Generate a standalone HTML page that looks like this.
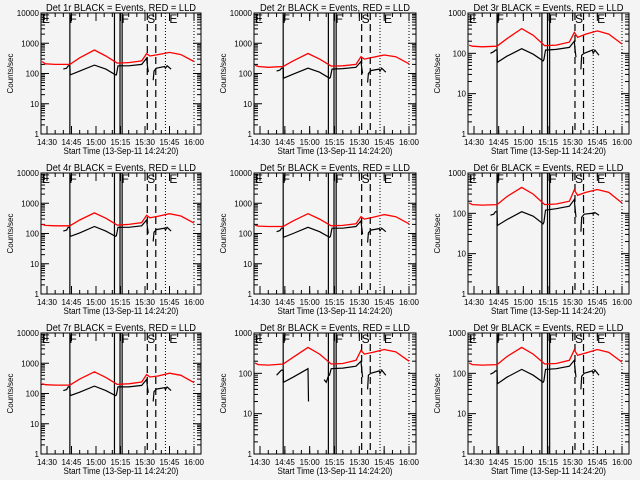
<!DOCTYPE html>
<html><head><meta charset="utf-8">
<style>
html,body{margin:0;padding:0;background:#f4f4f4;}
svg{display:block;font-family:"Liberation Sans",sans-serif;}
</style></head>
<body>
<svg id="chart" width="640" height="480" viewBox="0 0 640 480"></svg>
<script>
// ---- data ----
const detNames = ["1r","2r","3r","4r","5r","6r","7r","8r","9r"];
const yMaxDecade = [4,4,3,4,4,3,4,3,3];
const xTickLabels = ["14:30","14:45","15:00","15:15","15:30","15:45","16:00"];
const xTickMinutes = [0,15,30,45,60,75,90];
const solidLines = [14,41.3,44.7,46];
const dashedLines = [61.4,66.6];
const dottedLines = [72.5,90];
const markerLetters = ["E","F","F","S","E"];
const markerMinutes = [-2.5,14.3,46.2,62,75.5];
const redT = [-3,-1,5,14,20,29,36,43,50,58,61,63,68,75,82,90];
const red1 = [250,210,200,200,330,600,380,220,230,260,450,380,420,500,420,250];
const red2 = [190,170,160,170,260,460,300,175,180,200,360,300,340,410,360,210];
const red3 = [160,150,145,150,230,410,280,155,160,190,330,250,300,360,300,170];
const red4 = [200,185,180,180,280,480,320,190,200,230,400,330,370,450,380,220];
const red5 = [190,175,170,170,260,450,300,180,185,210,360,300,340,420,360,210];
const red6 = [180,165,160,165,260,440,300,165,170,200,380,280,330,390,330,180];
const red7 = [210,195,190,190,300,520,340,200,210,240,420,350,380,470,400,230];
const red8 = [180,165,160,170,250,440,300,170,175,210,370,300,330,390,340,200];
const red9 = [180,165,160,165,260,440,300,170,175,210,380,280,320,390,330,190];
const blackT = [10,12,13,14,14.2,20,29,36,42,42.5,43.5,50,58,61,61.5,62,63,65,65.5,67,72,72.5,73.5,76];
const black1 = [140,150,180,180,90,120,190,140,90,90,180,180,200,320,180,110,null,60,120,150,170,150,180,140];
const black2 = [120,130,150,150,70,95,150,110,70,75,140,145,160,250,150,100,null,50,100,125,140,120,150,110];
const black3 = [100,110,120,120,60,85,130,95,65,70,120,125,140,200,120,80,null,40,90,100,120,100,120,90];
const black4 = [120,130,160,160,80,105,170,120,80,85,160,160,180,280,160,100,null,55,110,135,150,130,160,120];
const black5 = [115,125,150,150,75,100,160,115,75,80,150,150,170,260,150,95,null,50,105,130,145,125,150,115];
const black6 = [90,95,110,110,50,70,110,85,55,60,120,130,150,220,130,80,null,35,80,95,100,95,105,90];
const black7 = [125,135,165,165,85,110,175,125,85,90,165,165,185,290,165,105,null,55,115,140,155,135,165,125];
const black9 = [95,105,115,115,55,80,125,90,60,65,125,130,150,210,125,80,null,40,85,100,115,100,120,90];
const blackT8 = [10,12,13,14,14.2,20,29,29.3,30,38.7,40,41.5,42,43,50,58,61,61.5,62,63,65,65.5,67,72,72.5,73.5,76];
const black8 = [90,110,120,120,60,80,130,20,null,70,60,90,90,130,135,150,200,120,80,null,40,90,100,115,100,120,90];
const redSeries = [red1,red2,red3,red4,red5,red6,red7,red8,red9];
const blackSeries = [black1,black2,black3,black4,black5,black6,black7,black8,black9];
const blackTimes = [blackT,blackT,blackT,blackT,blackT,blackT,blackT,blackT8,blackT];

const NS = "http://www.w3.org/2000/svg";
const svg = document.getElementById("chart");
function mk(tag, attrs, parent){
  const e = document.createElementNS(NS, tag);
  for (const k in attrs) e.setAttribute(k, attrs[k]);
  (parent||svg).appendChild(e);
  return e;
}
const colL = [41,254,468], colR = [201,416,629];
const rowT = [13,173,333], rowB = [134,294,454];

for (let p = 0; p < 9; p++) {
  const c = p % 3, r = Math.floor(p / 3);
  const L = colL[c], R = colR[c], T = rowT[r], B = rowB[r];
  const W = R - L, H = B - T;
  const top = yMaxDecade[p];
  const xs = t => L + 6 + (t / 90) * (W - 13);
  const ys = v => B - (Math.log10(v) / top) * H;

  const g = mk("g", {});
  
  
  const cid = "clip" + p;
  const cp = mk("clipPath", {id: cid}, g);
  mk("rect", {x: L, y: T, width: W, height: H}, cp);

  const title = mk("text", {x: (L + R) / 2, y: T - 2, "text-anchor": "middle", "font-size": "10", textLength: "150", lengthAdjust: "spacingAndGlyphs", fill: "#000"}, g);
  title.textContent = "Det " + detNames[p] + " BLACK = Events, RED = LLD";
  
  

  const yl = mk("text", {x: 0, y: 0, "text-anchor": "middle", "font-size": "8", transform: "translate(" + (L - 28) + "," + ((T + B) / 2) + ") rotate(-90)"}, g);
  yl.textContent = "Counts/sec";
  
  

  const xl = mk("text", {x: (L + R) / 2, y: B + 20, "text-anchor": "middle", "font-size": "9", textLength: "115", lengthAdjust: "spacingAndGlyphs"}, g);
  xl.textContent = "Start Time (13-Sep-11 14:24:20)";
  
  

  for (let d = 0; d <= top; d++) {
    const y = ys(Math.pow(10, d));
    const t = mk("text", {x: L - 2, y: y + 3, "text-anchor": "end", "font-size": "8"}, g);
    t.textContent = String(Math.pow(10, d));
    
    
    mk("line", {x1: L, x2: L + 8, y1: y, y2: y, stroke: "#000"}, g);
    mk("line", {x1: R, x2: R - 8, y1: y, y2: y, stroke: "#000"}, g);
    if (d < top) for (let m = 2; m <= 9; m++) {
      const ym = ys(m * Math.pow(10, d));
      mk("line", {x1: L, x2: L + 4, y1: ym, y2: ym, stroke: "#000"}, g);
      mk("line", {x1: R, x2: R - 4, y1: ym, y2: ym, stroke: "#000"}, g);
    }
  }
  for (let i = 0; i < xTickMinutes.length; i++) {
    const x = xs(xTickMinutes[i]);
    const t = mk("text", {x: x, y: B + 11, "text-anchor": "middle", "font-size": "8"}, g);
    t.textContent = xTickLabels[i];
    
    
    mk("line", {x1: x, x2: x, y1: B, y2: B - 8, stroke: "#000"}, g);
    mk("line", {x1: x, x2: x, y1: T, y2: T + 8, stroke: "#000"}, g);
  }
  for (let m = -5; m <= 95; m += 5) {
    const x = xs(m);
    if (x <= L || x >= R) continue;
    mk("line", {x1: x, x2: x, y1: B, y2: B - 4, stroke: "#000"}, g);
    mk("line", {x1: x, x2: x, y1: T, y2: T + 4, stroke: "#000"}, g);
  }
  const inner = mk("g", {"clip-path": "url(#" + cid + ")"}, g);
  solidLines.forEach(t => { const x = xs(t); mk("line", {x1: x, x2: x, y1: T, y2: B, stroke: "#000", "stroke-width": 1.2}, inner); });
  dashedLines.forEach(t => { const x = xs(t); mk("line", {x1: x, x2: x, y1: T, y2: B, stroke: "#000", "stroke-width": 1.2, "stroke-dasharray": "7,4"}, inner); });
  dottedLines.forEach(t => { const x = xs(t); mk("line", {x1: x, x2: x, y1: T, y2: B, stroke: "#000", "stroke-dasharray": "1,2"}, inner); });
  markerLetters.forEach((s, i) => {
    const t = mk("text", {x: xs(markerMinutes[i]) - 1, y: T + 10, "font-size": "12", fill: "#000"}, inner);
    t.textContent = s;
    
    
  });
  const redPts = redT.map((t, i) => xs(t).toFixed(1) + "," + ys(redSeries[p][i]).toFixed(1)).join(" ");
  const rl = mk("polyline", {points: redPts, fill: "none", stroke: "#ff0000", "stroke-width": 1.3}, inner);
  
  
  let segs = [], cur = [];
  blackTimes[p].forEach((t, i) => {
    const v = blackSeries[p][i];
    if (v === null) { if (cur.length) segs.push(cur); cur = []; }
    else cur.push(xs(t).toFixed(1) + "," + ys(v).toFixed(1));
  });
  if (cur.length) segs.push(cur);
  segs.forEach(s => {
    const bl = mk("polyline", {points: s.join(" "), fill: "none", stroke: "#000", "stroke-width": 1.2}, inner);
    
    
  });
  mk("rect", {x: L, y: T, width: W, height: H, fill: "none", stroke: "#000"}, g);
}
</script>
</body></html>
